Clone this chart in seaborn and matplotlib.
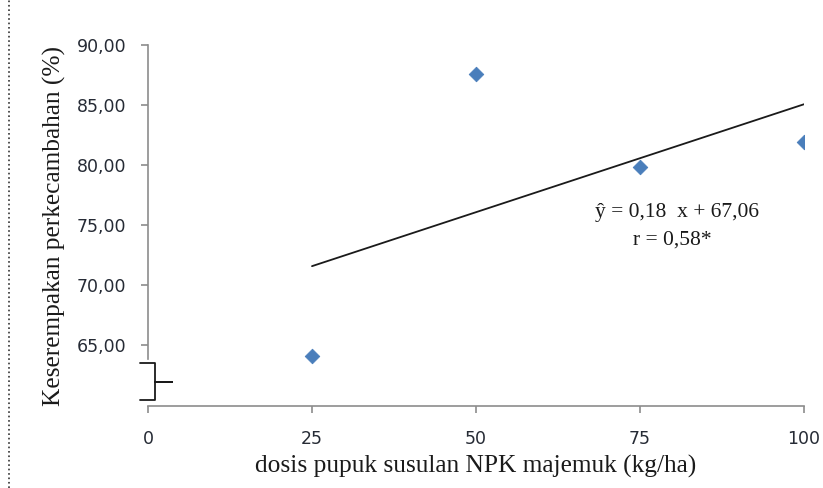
import matplotlib
matplotlib.use('Agg')
import matplotlib.pyplot as plt
import seaborn as sns
import pandas as pd
from matplotlib.lines import Line2D

# Data
dosis = [25, 50, 75, 100]
keserempakan = [64.1, 87.6, 79.8, 81.9]
trend_x = [25, 100]
trend_y = [71.56, 85.06]
y_ticks = [65, 70, 75, 80, 85, 90]
x_ticks = [0, 25, 50, 75, 100]

df = pd.DataFrame({'dosis': dosis, 'keserempakan': keserempakan})
df_trend = pd.DataFrame({'x': trend_x, 'y': trend_y})

sns.set_style('white')
plt.rcParams['font.family'] = ['DejaVu Sans']

W, H = 823, 488
fig = plt.figure(figsize=(W / 100, H / 100), dpi=100)
ax = fig.add_axes([148 / W, 1 - 406 / H, 656 / W, 361 / H])

sns.lineplot(data=df_trend, x='x', y='y', ax=ax, color='#1a1a1a', linewidth=1.3)
sns.scatterplot(data=df, x='dosis', y='keserempakan', ax=ax, marker='D',
                s=55, color='#4a7ebb', edgecolor='#4a7ebb', zorder=3)

ax.set_xlim(0, 100)
ax.set_ylim(59.9, 90)
ax.set_xticks(x_ticks)
ax.set_xticklabels([str(v) for v in x_ticks])
ax.set_yticks(y_ticks)
ax.set_yticklabels([f'{v:.2f}'.replace('.', ',') for v in y_ticks])

for side in ['top', 'right']:
    ax.spines[side].set_visible(False)
for side in ['left', 'bottom']:
    ax.spines[side].set_color('#8c8c8c')
    ax.spines[side].set_linewidth(1.2)
ax.spines['left'].set_bounds(63.8, 90)

ax.tick_params(axis='both', direction='out', length=5, width=1.2, color='#8c8c8c',
               labelsize=12.5, labelcolor='#262b35', bottom=True, left=True)
ax.tick_params(axis='y', pad=10.5)
ax.tick_params(axis='x', pad=12)

serif = ['Liberation Serif', 'DejaVu Serif']
ax.set_xlabel('dosis pupuk susulan NPK majemuk (kg/ha)', family=serif, fontsize=18.3,
              color='#1a1a1a', labelpad=5)
ax.set_ylabel('Keserempakan perkecambahan (%)', family=serif, fontsize=18.3,
              color='#1a1a1a', labelpad=8)

# axis break brace, drawn in pixel-like figure fractions
def fx(px):
    return px / W

def fy(py):
    return 1 - py / H

brace_x = [140, 155, 155, 172, 155, 155, 140]
brace_y = [363, 363, 382, 382, 382, 400, 400]
fig.add_artist(Line2D([fx(v) for v in brace_x], [fy(v) for v in brace_y],
                      transform=fig.transFigure, color='#1a1a1a', linewidth=1.3,
                      solid_joinstyle='round'))

ax.text(80.6, 76.0, 'ŷ = 0,18  x + 67,06', family=serif, fontsize=15.5,
        color='#1a1a1a', ha='center', va='center')
ax.text(80.0, 73.75, 'r = 0,58*', family=serif, fontsize=15.5,
        color='#1a1a1a', ha='center', va='center')

# dotted frame line on the left
fig.add_artist(Line2D([fx(9), fx(9)], [0, 1], transform=fig.transFigure,
                      color='#333333', linestyle=':', linewidth=1.2))

fig.savefig('out.png', dpi=100)
